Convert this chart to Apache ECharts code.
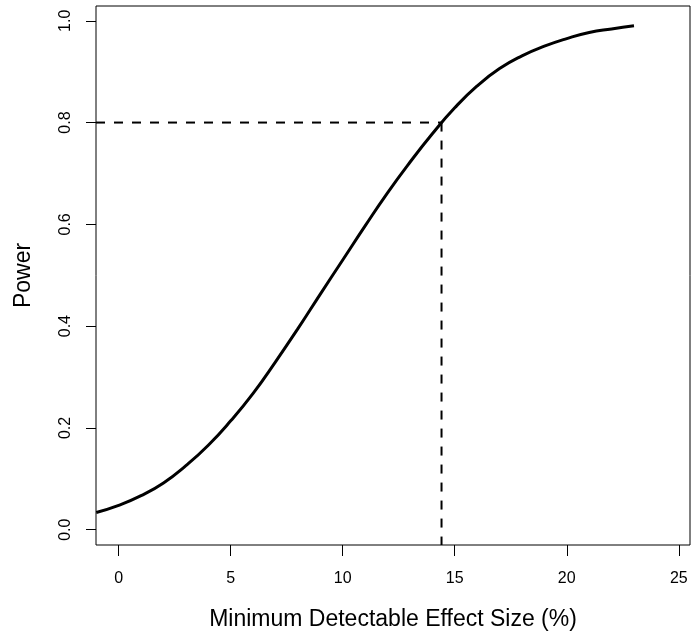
<!DOCTYPE html>
<html>
<head>
<meta charset="utf-8">
<script src="https://cdn.jsdelivr.net/npm/echarts@6/dist/echarts.min.js"></script>
<style>
html,body{margin:0;padding:0;background:#fff;}
#chart{width:691px;height:636px;}
</style>
</head>
<body>
<div id="chart"></div>
<script>
// Data
const effectSize = [-1, 0, 1, 2, 3, 4, 5, 6, 7, 8, 9, 10, 11, 12, 13, 14, 15, 16, 17, 18, 19, 20, 21, 22, 23];
const power =      [0.034, 0.048, 0.067, 0.092, 0.126, 0.166, 0.214, 0.268, 0.330, 0.395, 0.463, 0.530, 0.597, 0.662, 0.722, 0.778, 0.829, 0.872, 0.906, 0.931, 0.950, 0.965, 0.977, 0.984, 0.990];
const targetPower = 0.8;
const cutoffEffect = 14.41;
const xTicks = [0, 5, 10, 15, 20, 25];
const yTicks = [0.0, 0.2, 0.4, 0.6, 0.8, 1.0];

const X_MIN = -1.012, X_MAX = 25.5;
const Y_MIN = -0.030, Y_MAX = 1.029;

const font = "'Liberation Sans', Arial, Helvetica, sans-serif";
const chart = echarts.init(document.getElementById('chart'), null, {renderer: 'canvas'});

const curve = effectSize.map((x, i) => [x, power[i]]);
const hLine = [[X_MIN, targetPower], [cutoffEffect, targetPower]];
const vLine = [[cutoffEffect, targetPower], [cutoffEffect, Y_MIN]];

chart.setOption({
  animation: false,
  backgroundColor: '#fff',
  grid: {left: 96, top: 6, width: 594, height: 544, show: true, borderColor: '#000', borderWidth: 1, backgroundColor: 'transparent', containLabel: false},
  xAxis: {
    type: 'value', min: X_MIN, max: X_MAX,
    name: 'Minimum Detectable Effect Size (%)', nameLocation: 'middle', nameGap: 63,
    nameTextStyle: {fontSize: 23, color: '#000', fontFamily: font},
    axisLine: {show: false, onZero: false},
    axisTick: {show: true, inside: false, length: 11, lineStyle: {color: '#000', width: 1}, customValues: xTicks},
    axisLabel: {show: true, margin: 26, fontSize: 16, color: '#000', fontFamily: font, customValues: xTicks, formatter: v => String(v)},
    splitLine: {show: false}
  },
  yAxis: {
    type: 'value', min: Y_MIN, max: Y_MAX,
    name: 'Power', nameLocation: 'middle', nameGap: 61, nameRotate: 90,
    nameTextStyle: {fontSize: 23, color: '#000', fontFamily: font},
    axisLine: {show: false, onZero: false},
    axisTick: {show: true, inside: false, length: 10, lineStyle: {color: '#000', width: 1}, customValues: yTicks},
    axisLabel: {show: true, rotate: 90, margin: 22, fontSize: 16, color: '#000', fontFamily: font, customValues: yTicks, formatter: v => v.toFixed(1)},
    splitLine: {show: false}
  },
  series: [
    {type: 'line', data: curve, showSymbol: false, smooth: true, lineStyle: {color: '#000', width: 3}, z: 3},
    {type: 'line', data: hLine, showSymbol: false, lineStyle: {color: '#000', width: 2, type: [9, 9]}, z: 2},
    {type: 'line', data: vLine, showSymbol: false, lineStyle: {color: '#000', width: 2, type: [9, 9]}, z: 2}
  ]
});
</script>
</body>
</html>
